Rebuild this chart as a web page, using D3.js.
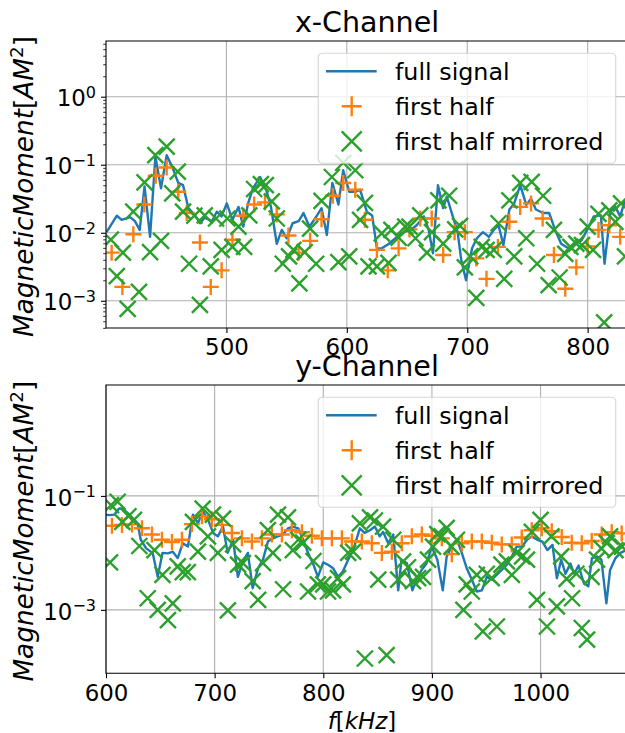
<!DOCTYPE html>
<html>
<head>
<meta charset="utf-8">
<script src="https://cdn.jsdelivr.net/npm/d3@7"></script>
<style>
  body { margin: 0; background: #fff; }
  svg { display: block; font-family: "DejaVu Sans", sans-serif; }
</style>
</head>
<body>
<svg id="chart" width="625" height="733"></svg>
<script>
// ---- data: [frequency kHz, magnetic moment] ----
const xFull = [[400.5,0.0102],[409,0.0178],[413,0.0155],[420,0.017],[424,0.0148],[428,0.011],[432,0.048],[436.6,0.0087],[441,0.132],[445.7,0.045],
  [450.4,0.138],[455,0.093],[460,0.054],[464,0.05],[468.4,0.023],[474,0.018],[478,0.0138],[482,0.0166],[488,0.0148],[492,0.0204],
  [496,0.0174],[500.3,0.027],[505,0.0155],[510,0.024],[514,0.0123],[518,0.027],[522,0.045],[528,0.066],[533,0.043],[537,0.024],
  [541.8,0.0069],[546,0.011],[550,0.0083],[555,0.0138],[560,0.0148],[564,0.0195],[569,0.0123],[574,0.0166],[579,0.023],[583.4,0.0093],
  [588,0.054],[593,0.026],[597,0.083],[602,0.04],[607,0.04],[611,0.043],[616.6,0.0204],[621,0.018],[625,0.0059],[629,0.0059],
  [635,0.0069],[641.6,0.0087],[647,0.0102],[653,0.011],[658,0.0129],[664,0.0174],[668,0.011],[671.5,0.005],[675.7,0.05],[680,0.023],
  [683,0.034],[688,0.0174],[692,0.0102],[695,0.004],[699,0.002],[704,0.0059],[708,0.0083],[713,0.0102],[718,0.0087],[722,0.011],
  [726,0.0129],[730,0.0066],[735,0.022],[739,0.027],[744,0.05],[749,0.0257],[753,0.0316],[757,0.022],[763,0.0195],[768,0.0195],
  [773,0.011],[778,0.0069],[784,0.0059],[790,0.0069],[795,0.0078],[801,0.0123],[805,0.0174],[811,0.018],[814,0.0035],[819,0.0204],
  [823,0.024],[827,0.0174],[831,0.03]];
const xHalf = [[404.7,0.0051],[413.6,0.0016],[422.7,0.0095],[431.8,0.026],[441.3,0.069],[450.4,0.091],[460,0.04],[467,0.0195],[478,0.0072],[487,0.0016],
  [496,0.0028],[505,0.0079],[514,0.0178],[523,0.026],[532,0.028],[541.8,0.0186],[551.5,0.0091],[560,0.0051],[569.5,0.0076],[579,0.0158],
  [588.4,0.035],[597,0.054],[607,0.043],[615,0.0155],[625,0.0056],[634,0.0028],[643,0.0059],[652,0.0112],[661,0.0162],[670.5,0.0162],
  [680,0.0047],[689.5,0.0102],[698,0.0102],[707.5,0.0042],[716,0.0021],[725.5,0.0062],[735,0.0145],[744,0.024],[753,0.027],[762.6,0.0162],
  [772,0.0047],[781.4,0.0015],[790.6,0.0031],[800,0.0063],[809,0.011],[818,0.0129],[827,0.0087]];
const xMirr = [[404,0.0079],[409,0.0023],[414,0.0051],[418,0.00076],[422.7,0.0204],[427.4,0.00135],[432,0.055],[436.6,0.0052],[441,0.138],[445.7,0.0076],
  [450.4,0.184],[455,0.038],[459.6,0.079],[464,0.0204],[469,0.0035],[473.4,0.0178],[478,0.00087],[482,0.018],[487,0.0032],[491.4,0.0162],
  [496,0.0056],[500.8,0.0162],[505,0.0062],[510,0.0123],[514.7,0.0062],[519,0.018],[523,0.044],[528.6,0.052],[532.7,0.05],[537.7,0.029],
  [541.8,0.0162],[546.8,0.0035],[552,0.0045],[555.6,0.0056],[560.6,0.0018],[565,0.0052],[569.5,0.0115],[574.5,0.0035],[579,0.0295],[587.6,0.066],
  [593,0.0037],[597,0.107],[602,0.0045],[607,0.083],[611,0.0155],[615,0.0275],[618,0.0032],[625,0.0032],[629,0.0098],[634.6,0.0036],
  [637,0.011],[643,0.0085],[648.5,0.0123],[652,0.0123],[657,0.0083],[661,0.018],[666.5,0.0051],[670.7,0.0102],[676,0.03],[680,0.0069],
  [685,0.035],[690,0.0112],[694,0.0126],[698,0.0031],[702.5,0.0045],[707.5,0.0011],[712,0.0062],[716,0.0056],[722,0.0056],[726,0.0138],
  [730.7,0.0021],[735,0.03],[739,0.0045],[744,0.054],[749,0.0083],[753.5,0.056],[758,0.0035],[763,0.035],[767.6,0.0017],[772,0.011],
  [776.7,0.0022],[781.4,0.0049],[785.6,0.0062],[790.6,0.0069],[795.3,0.0066],[800,0.0123],[804.5,0.0056],[809,0.019],[813.7,0.00048],[818,0.0214],
  [823,0.0145],[827.7,0.027],[831,0.0045]];

const yFull = [[600,0.0467],[603,0.046],[607.7,0.047],[612,0.06],[615,0.06],[620,0.05],[624.5,0.041],[629,0.033],[632,0.017],[637,0.012],
  [643,0.01],[647.6,0.0038],[652,0.01],[657,0.0098],[661.5,0.0105],[666,0.0081],[670.7,0.0148],[675.4,0.0129],[680,0.047],[684.6,0.033],
  [689,0.054],[694,0.038],[698.6,0.0224],[703,0.0195],[707.7,0.029],[712,0.01],[717,0.017],[721.4,0.0038],[726,0.0071],[730.6,0.01],
  [735,0.0024],[740,0.0054],[744.5,0.0076],[749,0.0158],[753.6,0.018],[758,0.0195],[763,0.021],[767.5,0.027],[772,0.029],[777,0.027],
  [781.5,0.017],[786,0.01],[791,0.0062],[795,0.0038],[800,0.0068],[804.4,0.0062],[809,0.0054],[813.6,0.0038],[818,0.0047],[822.9,0.0076],
  [827.5,0.0112],[833.7,0.027],[838,0.0224],[843,0.025],[847.5,0.029],[852,0.0195],[855,0.0234],[859.8,0.0148],[864.4,0.021],[869,0.0022],
  [872,0.0076],[877,0.0066],[882,0.0022],[886,0.0034],[890.5,0.005],[895,0.0065],[899.8,0.0129],[905,0.0076],[910,0.0022],[913.6,0.0087],
  [918.2,0.0129],[922.9,0.0174],[927.5,0.01],[932,0.0054],[936.7,0.0034],[941.3,0.0021],[946,0.0022],[950.5,0.0038],[955,0.0034],[960,0.0042],
  [964,0.005],[969,0.0062],[973.6,0.0087],[978,0.0129],[983,0.0129],[987.5,0.017],[992,0.0195],[997,0.017],[1001.7,0.0158],[1006.3,0.0112],
  [1011,0.0138],[1015,0.0036],[1019,0.0076],[1023,0.0043],[1027.5,0.0065],[1031,0.0043],[1035,0.006],[1039.7,0.003],[1044,0.0026],[1047.3,0.0081],
  [1052,0.0087],[1056,0.0076],[1060.6,0.0013],[1064,0.005],[1069,0.0081],[1073.6,0.01],[1078,0.011]];
const yHalf = [[605.5,0.03],[614.7,0.031],[623.9,0.0316],[633.1,0.027],[642.3,0.021],[651.5,0.017],[660.7,0.0155],[669.9,0.017],[679.1,0.032],[688.3,0.044],
  [697.5,0.039],[706.7,0.031],[715.9,0.0224],[725.1,0.018],[734.3,0.0158],[743.5,0.018],[752.7,0.021],[761.9,0.021],[771.1,0.025],[780.3,0.023],
  [789.5,0.02],[798.7,0.018],[807.9,0.018],[817.1,0.018],[826.3,0.0158],[835.5,0.0158],[844.7,0.0148],[853.9,0.01],[863.1,0.0105],[872.3,0.0148],
  [881.5,0.0195],[890.7,0.021],[899.9,0.02],[909.1,0.018],[918.3,0.0095],[927.5,0.0148],[936.7,0.0158],[945.9,0.0158],[955.1,0.0151],[964.3,0.0141],
  [973.5,0.0141],[982.7,0.0186],[991.9,0.025],[1001.1,0.027],[1010.3,0.024],[1019.5,0.019],[1028.7,0.0151],[1037.9,0.0148],[1047.1,0.0162],[1056.3,0.021],
  [1065.5,0.023],[1074.7,0.022]];
const yMirr = [[603.7,0.0068],[604.6,0.069],[610.7,0.079],[615,0.035],[620.7,0.044],[625.7,0.038],[630.7,0.0132],[638.4,0.0016],[644.6,0.0112],[647.6,0.001],
  [652,0.0041],[657,0.00066],[661.5,0.0013],[666,0.0058],[670.7,0.0046],[675.3,0.0046],[680,0.035],[684.6,0.0105],[689,0.06],[693.8,0.0195],
  [698.4,0.047],[703,0.01],[707.7,0.04],[712.2,0.00098],[717,0.0141],[721.5,0.0062],[726,0.0066],[735,0.0032],[740,0.0015],[744.5,0.0066],
  [749,0.025],[753.6,0.01],[758.3,0.047],[763,0.0023],[767.5,0.042],[772,0.0112],[777,0.017],[781.5,0.0151],[786,0.0021],[791,0.0072],
  [795,0.0028],[800,0.0028],[804.4,0.0021],[809,0.0022],[813.6,0.0036],[818,0.0028],[822.9,0.01],[827.5,0.0105],[833.7,0.033],[838.3,0.00014],
  [843,0.042],[847.5,0.037],[850.6,0.0034],[855,0.029],[858.3,0.00016],[864.4,0.017],[869,0.0034],[873.5,0.0071],[878,0.0056],[882.6,0.0032],
  [887.3,0.0036],[891.8,0.0038],[896.4,0.0076],[901,0.0129],[905,0.0214],[909,0.0195],[913.6,0.0275],[918,0.0129],[923,0.017],[929,0.001],
  [932,0.0028],[936.7,0.0021],[941.3,0.0041],[946.9,0.00042],[950.5,0.0043],[955,0.0036],[959.8,0.00051],[964,0.0062],[969,0.0071],[973.6,0.0041],
  [978,0.01],[983,0.0087],[987.5,0.0076],[992,0.0234],[996.7,0.0015],[1000,0.038],[1005.9,0.00051],[1010,0.0195],[1015,0.00115],[1019,0.0087],
  [1024,0.0035],[1029,0.0016],[1033,0.0043],[1038,0.00048],[1042.8,0.0003],[1047,0.0038],[1052,0.0076],[1056,0.012],[1061,0.0148],[1064,0.0195],
  [1069,0.0112],[1075,0.0129]];

// tick values
const xTicksTop = [500, 600, 700, 800];
const xTicksBottom = [600, 700, 800, 900, 1000];
const yTicksTop = [1, 0.1, 0.01, 0.001];
const yTicksBottom = [0.1, 0.001];
const legendLabels = ['full signal', 'first half', 'first half mirrored'];

const colors = { full: '#1f77b4', half: '#ff7f0e', mirr: '#2ca02c' };
const left = 106, right = 628;
const tickFont = 22.9;

const panels = [
  { id: 'px', title: 'x-Channel', top: 41, bottom: 328, xDomain: [400, 833.5], yDomain: [3.98e-4, 6.59],
    xTicks: xTicksTop, yTicks: yTicksTop, minor: true, full: xFull, half: xHalf, mirr: xMirr, xlabel: false },
  { id: 'py', title: 'y-Channel', top: 385, bottom: 673.3, xDomain: [600, 1080.5], yDomain: [7.7e-5, 8.85],
    xTicks: xTicksBottom, yTicks: yTicksBottom, minor: false, full: yFull, half: yHalf, mirr: yMirr, xlabel: true }
];

const svg = d3.select('#chart');
svg.append('rect').attr('width', 625).attr('height', 733).attr('fill', '#fff');

const plusPath = s => `M${-s},0H${s}M0,${-s}V${s}`;
const crossPath = s => `M${-s},${-s}L${s},${s}M${-s},${s}L${s},${-s}`;

function sup(textSel, exp) {
  textSel.text(null);
  textSel.append('tspan').text('10');
  textSel.append('tspan').attr('dy', -8.5).style('font-size', '16px')
    .text(exp < 0 ? '\u2212' + Math.abs(exp) : String(exp));
}

panels.forEach(p => {
  const x = d3.scaleLinear().domain(p.xDomain).range([left, right]);
  const y = d3.scaleLog().domain(p.yDomain).range([p.bottom, p.top]);
  const g = svg.append('g');

  // grid
  g.append('g').selectAll('line.vg').data(p.xTicks).join('line')
    .attr('x1', d => x(d)).attr('x2', d => x(d)).attr('y1', p.top).attr('y2', p.bottom)
    .attr('stroke', '#b0b0b0').attr('stroke-width', 1.1);
  g.append('g').selectAll('line.hg').data(p.yTicks).join('line')
    .attr('x1', left).attr('x2', right).attr('y1', d => y(d)).attr('y2', d => y(d))
    .attr('stroke', '#b0b0b0').attr('stroke-width', 1.1);

  // data
  g.append('clipPath').attr('id', 'clip-' + p.id).append('rect')
    .attr('x', left).attr('y', p.top).attr('width', right - left).attr('height', p.bottom - p.top);
  const data = g.append('g').attr('clip-path', `url(#clip-${p.id})`);

  data.append('path').datum(p.full)
    .attr('d', d3.line().x(d => x(d[0])).y(d => y(d[1])))
    .attr('fill', 'none').attr('stroke', colors.full).attr('stroke-width', 2.4)
    .attr('stroke-linejoin', 'round');

  data.append('g').selectAll('path').data(p.half).join('path')
    .attr('transform', d => `translate(${x(d[0])},${y(d[1])})`)
    .attr('d', plusPath(8)).attr('stroke', colors.half).attr('stroke-width', 2.4).attr('fill', 'none');

  data.append('g').selectAll('path').data(p.mirr).join('path')
    .attr('transform', d => `translate(${x(d[0])},${y(d[1])})`)
    .attr('d', crossPath(8)).attr('stroke', colors.mirr).attr('stroke-width', 2.4).attr('fill', 'none');

  // x axis
  const xa = g.append('g').attr('transform', `translate(0,${p.bottom})`)
    .call(d3.axisBottom(x).tickValues(p.xTicks).tickFormat(d3.format('d'))
      .tickSize(5).tickPadding(6.2).tickSizeOuter(0));
  xa.select('.domain').remove();
  xa.selectAll('.tick line').attr('stroke', '#000').attr('stroke-width', 1.1);
  xa.selectAll('.tick text').attr('fill', '#000').style('font-size', tickFont + 'px')
    .style('font-family', '"DejaVu Sans", sans-serif');

  // y axis major
  const ya = g.append('g').attr('transform', `translate(${left},0)`)
    .call(d3.axisLeft(y).tickValues(p.yTicks).tickSize(5).tickPadding(5).tickSizeOuter(0));
  ya.select('.domain').remove();
  ya.selectAll('.tick line').attr('stroke', '#000').attr('stroke-width', 1.1);
  ya.selectAll('.tick text').attr('fill', '#000').attr('dy', '0.4em')
    .style('font-size', tickFont + 'px').style('font-family', '"DejaVu Sans", sans-serif')
    .each(function (d) { sup(d3.select(this), Math.round(Math.log10(d))); });

  if (p.minor) {
    const minors = y.ticks().filter(v => Math.abs(Math.log10(v) - Math.round(Math.log10(v))) > 1e-6);
    const ym = g.append('g').attr('transform', `translate(${left},0)`)
      .call(d3.axisLeft(y).tickValues(minors).tickSize(2.8).tickFormat(''));
    ym.select('.domain').remove();
    ym.selectAll('.tick line').attr('stroke', '#000').attr('stroke-width', 0.8);
  }

  // spines (right spine falls outside the picture)
  g.append('path')
    .attr('d', `M${right},${p.top}H${left}V${p.bottom}H${right}`)
    .attr('fill', 'none').attr('stroke', '#000').attr('stroke-width', 1.1);

  // title
  g.append('text').attr('x', (left + right) / 2).attr('y', p.top - 9)
    .attr('text-anchor', 'middle').style('font-size', '28.5px').text(p.title);

  // y label
  const yl = g.append('text')
    .attr('transform', `translate(33,${(p.top + p.bottom) / 2 + 2}) rotate(-90)`)
    .attr('text-anchor', 'middle').style('font-size', '26.3px');
  yl.append('tspan').style('font-style', 'italic').text('MagneticMoment');
  yl.append('tspan').text('[');
  yl.append('tspan').style('font-style', 'italic').text('AM');
  yl.append('tspan').attr('dy', -10).style('font-size', '18.4px').text('2');
  yl.append('tspan').attr('dy', 10).text(']');

  if (p.xlabel) {
    const xl = g.append('text').attr('x', 362).attr('y', 729)
      .attr('text-anchor', 'middle').style('font-size', tickFont + 'px');
    xl.append('tspan').style('font-style', 'italic').text('f');
    xl.append('tspan').text('[');
    xl.append('tspan').style('font-style', 'italic').text('kHz');
    xl.append('tspan').text(']');
  }

  // legend
  const lg = g.append('g').attr('transform', `translate(318.3,${p.top + 12.3})`);
  lg.append('rect').attr('width', 297.4).attr('height', 110).attr('rx', 4)
    .attr('fill', '#fff').attr('fill-opacity', 0.8)
    .attr('stroke', '#cccccc').attr('stroke-opacity', 0.8).attr('stroke-width', 1.1);
  legendLabels.forEach((lab, i) => {
    const cy = 18 + i * 35;
    if (i === 0) {
      lg.append('line').attr('x1', 7.7).attr('x2', 58.4).attr('y1', cy).attr('y2', cy)
        .attr('stroke', colors.full).attr('stroke-width', 2.4);
    } else {
      lg.append('path').attr('transform', `translate(33.4,${cy})`)
        .attr('d', i === 1 ? plusPath(10) : crossPath(10))
        .attr('stroke', i === 1 ? colors.half : colors.mirr).attr('stroke-width', 2.4).attr('fill', 'none');
    }
    lg.append('text').attr('x', 76.7).attr('y', cy + 8.5).style('font-size', '23.8px').text(lab);
  });
});
</script>
</body>
</html>
